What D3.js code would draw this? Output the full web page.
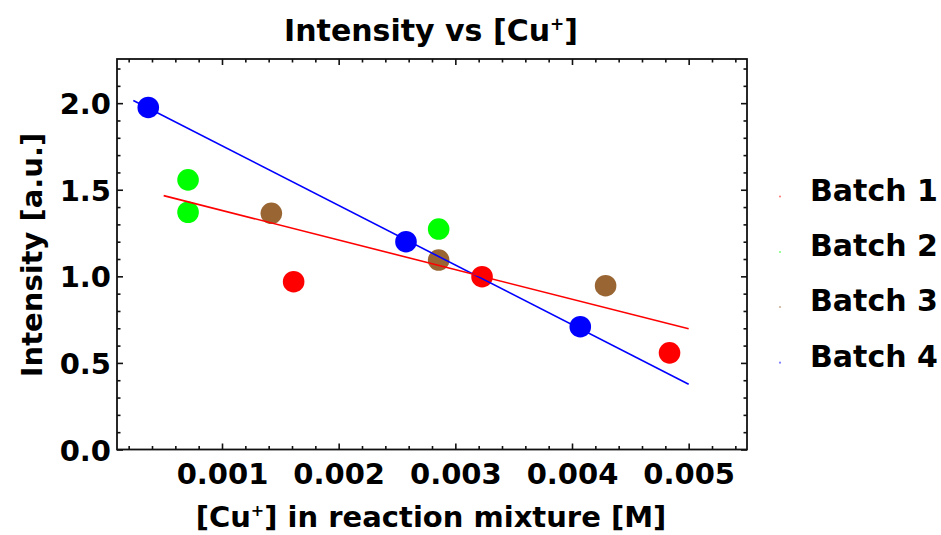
<!DOCTYPE html>
<html>
<head>
<meta charset="utf-8">
<script src="https://cdn.jsdelivr.net/npm/d3@7"></script>
<style>
  html, body { margin: 0; padding: 0; background: #fff; }
  svg { display: block; font-family: "DejaVu Sans", Verdana, sans-serif; font-weight: bold; }
</style>
</head>
<body>
<svg id="chart" width="941" height="535"></svg>
<script>
// Batch measurements: copper(I) concentration [M] and intensity [a.u.]
const batchNames  = ["Batch 1", "Batch 2", "Batch 3", "Batch 4"];
const batchColors = ["#ff0000", "#00ff00", "#996633", "#0000ff"];

const batch1X = [0.001614, 0.003229, 0.004836];
const batch1Y = [0.969, 0.998, 0.558];
const batch2X = [0.000709, 0.000709, 0.002857];
const batch2Y = [1.557, 1.370, 1.273];
const batch3X = [0.001423, 0.002857, 0.004288];
const batch3Y = [1.364, 1.094, 0.946];
const batch4X = [0.000368, 0.002577, 0.004071];
const batch4Y = [1.975, 1.200, 0.709];

// Linear fit lines (end points)
const fitColors = ["#0000ff", "#ff0000"];
const fitX = [[0.00024, 0.005], [0.0005, 0.005]];
const fitY = [[2.015, 0.377], [1.466, 0.697]];

// Axis ticks
const xMajorTicks = [0.001, 0.002, 0.003, 0.004, 0.005];
const xMinorTicks = [0.0002, 0.0004, 0.0006, 0.0008, 0.0012, 0.0014, 0.0016, 0.0018,
                     0.0022, 0.0024, 0.0026, 0.0028, 0.0032, 0.0034, 0.0036, 0.0038,
                     0.0042, 0.0044, 0.0046, 0.0048, 0.0052, 0.0054];
const yMajorTicks = [0.0, 0.5, 1.0, 1.5, 2.0];
const yMinorTicks = [0.1, 0.2, 0.3, 0.4, 0.6, 0.7, 0.8, 0.9, 1.1, 1.2, 1.3, 1.4,
                     1.6, 1.7, 1.8, 1.9, 2.1, 2.2];

const xDomain = [0.0001, 0.0055];
const yDomain = [0, 2.255];

const batches = [
  { xs: batch1X, ys: batch1Y },
  { xs: batch2X, ys: batch2Y },
  { xs: batch3X, ys: batch3Y },
  { xs: batch4X, ys: batch4Y }
];

const svg = d3.select("#chart");
const plot = { left: 117, right: 747, top: 59, bottom: 449.5 };

const x = d3.scaleLinear().domain(xDomain).range([plot.left, plot.right]);
const y = d3.scaleLinear().domain(yDomain).range([plot.bottom, plot.top]);

const majorLen = 6, minorLen = 3.5;
const fontSize = 29;

function styleAxis(g) {
  g.select(".domain").remove();
  g.selectAll(".tick line").attr("stroke", "#111").attr("stroke-width", 1.6);
}

// Bottom axis
const gBottom = svg.append("g").attr("transform", `translate(0,${plot.bottom})`);
gBottom.call(d3.axisBottom(x).tickValues(xMinorTicks).tickSize(-minorLen).tickFormat(""));
styleAxis(gBottom);
const gBottomMajor = svg.append("g").attr("transform", `translate(0,${plot.bottom})`);
gBottomMajor.call(d3.axisBottom(x).tickValues(xMajorTicks).tickSize(-majorLen).tickFormat(d3.format(".3f")));
styleAxis(gBottomMajor);
gBottomMajor.selectAll(".tick text")
  .attr("y", 34.5).attr("dy", 0)
  .attr("font-family", "DejaVu Sans").attr("font-weight", "bold")
  .attr("font-size", fontSize).attr("fill", "#000");

// Top axis (ticks only)
const gTop = svg.append("g").attr("transform", `translate(0,${plot.top})`);
gTop.call(d3.axisTop(x).tickValues(xMinorTicks).tickSize(-minorLen).tickFormat(""));
styleAxis(gTop);
const gTopMajor = svg.append("g").attr("transform", `translate(0,${plot.top})`);
gTopMajor.call(d3.axisTop(x).tickValues(xMajorTicks).tickSize(-majorLen).tickFormat(""));
styleAxis(gTopMajor);

// Left axis
const gLeft = svg.append("g").attr("transform", `translate(${plot.left},0)`);
gLeft.call(d3.axisLeft(y).tickValues(yMinorTicks).tickSize(-minorLen).tickFormat(""));
styleAxis(gLeft);
const gLeftMajor = svg.append("g").attr("transform", `translate(${plot.left},0)`);
gLeftMajor.call(d3.axisLeft(y).tickValues(yMajorTicks).tickSize(-majorLen).tickFormat(d3.format(".1f")));
styleAxis(gLeftMajor);
gLeftMajor.selectAll(".tick text")
  .attr("x", -6).attr("dy", 10.5)
  .attr("font-family", "DejaVu Sans").attr("font-weight", "bold")
  .attr("font-size", fontSize).attr("fill", "#000");

// Right axis (ticks only)
const gRight = svg.append("g").attr("transform", `translate(${plot.right},0)`);
gRight.call(d3.axisRight(y).tickValues(yMinorTicks).tickSize(-minorLen).tickFormat(""));
styleAxis(gRight);
const gRightMajor = svg.append("g").attr("transform", `translate(${plot.right},0)`);
gRightMajor.call(d3.axisRight(y).tickValues(yMajorTicks).tickSize(-majorLen).tickFormat(""));
styleAxis(gRightMajor);

// Frame
svg.append("rect")
  .attr("x", plot.left).attr("y", plot.top)
  .attr("width", plot.right - plot.left).attr("height", plot.bottom - plot.top)
  .attr("fill", "none").attr("stroke", "#111").attr("stroke-width", 1.8);

// Data points
batches.forEach((b, i) => {
  svg.append("g").selectAll("circle")
    .data(b.xs.map((v, k) => [v, b.ys[k]]))
    .join("circle")
    .attr("cx", d => x(d[0]))
    .attr("cy", d => y(d[1]))
    .attr("r", 10.8)
    .attr("fill", batchColors[i]);
});

// Fit lines
const line = d3.line().x(d => x(d[0])).y(d => y(d[1]));
fitX.forEach((xs, i) => {
  svg.append("path")
    .datum(xs.map((v, k) => [v, fitY[i][k]]))
    .attr("d", line)
    .attr("fill", "none")
    .attr("stroke", fitColors[i])
    .attr("stroke-width", 1.6);
});

// Title
const title = svg.append("text")
  .attr("x", 431).attr("y", 41)
  .attr("text-anchor", "middle")
  .attr("font-size", 30).attr("fill", "#000");
title.append("tspan").text("Intensity vs [Cu");
title.append("tspan").attr("font-size", 17).attr("dy", -11).text("+");
title.append("tspan").attr("dy", 11).text("]");

// Axis titles
const xLabel = svg.append("text")
  .attr("x", 431).attr("y", 527)
  .attr("text-anchor", "middle")
  .attr("font-size", fontSize).attr("fill", "#000");
xLabel.append("tspan").text("[Cu");
xLabel.append("tspan").attr("font-size", 16).attr("dy", -11).text("+");
xLabel.append("tspan").attr("dy", 11).text("] in reaction mixture [M]");

svg.append("text")
  .attr("transform", "translate(41.5,255) rotate(-90)")
  .attr("text-anchor", "middle")
  .attr("font-size", fontSize).attr("fill", "#000")
  .text("Intensity [a.u.]");

// Legend
const legendY = [200.5, 256, 311, 366.7];
const legend = svg.append("g");
batchNames.forEach((name, i) => {
  legend.append("circle")
    .attr("cx", 780).attr("cy", legendY[i] - 4)
    .attr("r", 1.1).attr("fill", batchColors[i]).attr("opacity", 0.5);
  legend.append("text")
    .attr("x", 810).attr("y", legendY[i])
    .attr("font-size", 30).attr("fill", "#000")
    .text(name);
});
</script>
</body>
</html>
